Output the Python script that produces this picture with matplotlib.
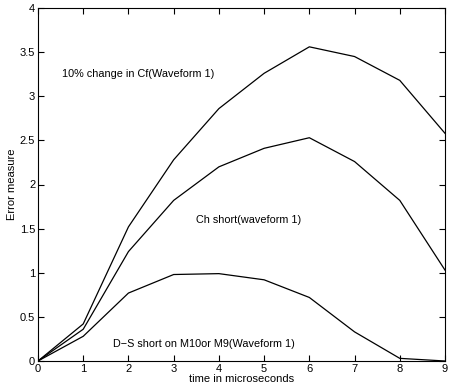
import matplotlib
matplotlib.use("Agg")
import matplotlib.pyplot as plt

plt.rcParams['font.family'] = ['Liberation Sans', 'DejaVu Sans']

t = [0, 1, 2, 3, 4, 5, 6, 7, 8, 9]
cf_change = [0, 0.42, 1.52, 2.28, 2.86, 3.26, 3.56, 3.45, 3.18, 2.58]
ch_short = [0, 0.36, 1.24, 1.82, 2.20, 2.41, 2.53, 2.26, 1.82, 1.03]
ds_short = [0, 0.28, 0.77, 0.98, 0.99, 0.92, 0.72, 0.33, 0.03, 0.0]
xticks = [0, 1, 2, 3, 4, 5, 6, 7, 8, 9]
yticks = [0, 0.5, 1, 1.5, 2, 2.5, 3, 3.5, 4]
ytick_labels = ['0', '0.5', '1', '1.5', '2', '2.5', '3', '3.5', '4']

fig = plt.figure(figsize=(4.51, 3.92), dpi=100)
ax = fig.add_axes([38/451, 31/392, 407/451, 353/392])
for y in (cf_change, ch_short, ds_short):
    ax.plot(t, y, color='black', linewidth=0.9)

ax.set_xlim(0, 9)
ax.set_ylim(0, 4)
ax.set_xticks(xticks)
ax.set_yticks(yticks)
ax.set_yticklabels(ytick_labels)
ax.tick_params(direction='in', top=True, right=True, labelsize=8, length=4, pad=2)
ax.set_xlabel('time in microseconds', fontsize=8, labelpad=0)
ax.set_ylabel('Error measure', fontsize=8, labelpad=2)

ax.text(0.53, 3.25, '10% change in Cf(Waveform 1)', fontsize=7.8, va='center')
ax.text(3.5, 1.60, 'Ch short(waveform 1)', fontsize=7.8, va='center')
ax.text(1.66, 0.19, 'D\u2212S short on M10or M9(Waveform 1)', fontsize=7.8, va='center')

fig.savefig('out.png', dpi=100)
